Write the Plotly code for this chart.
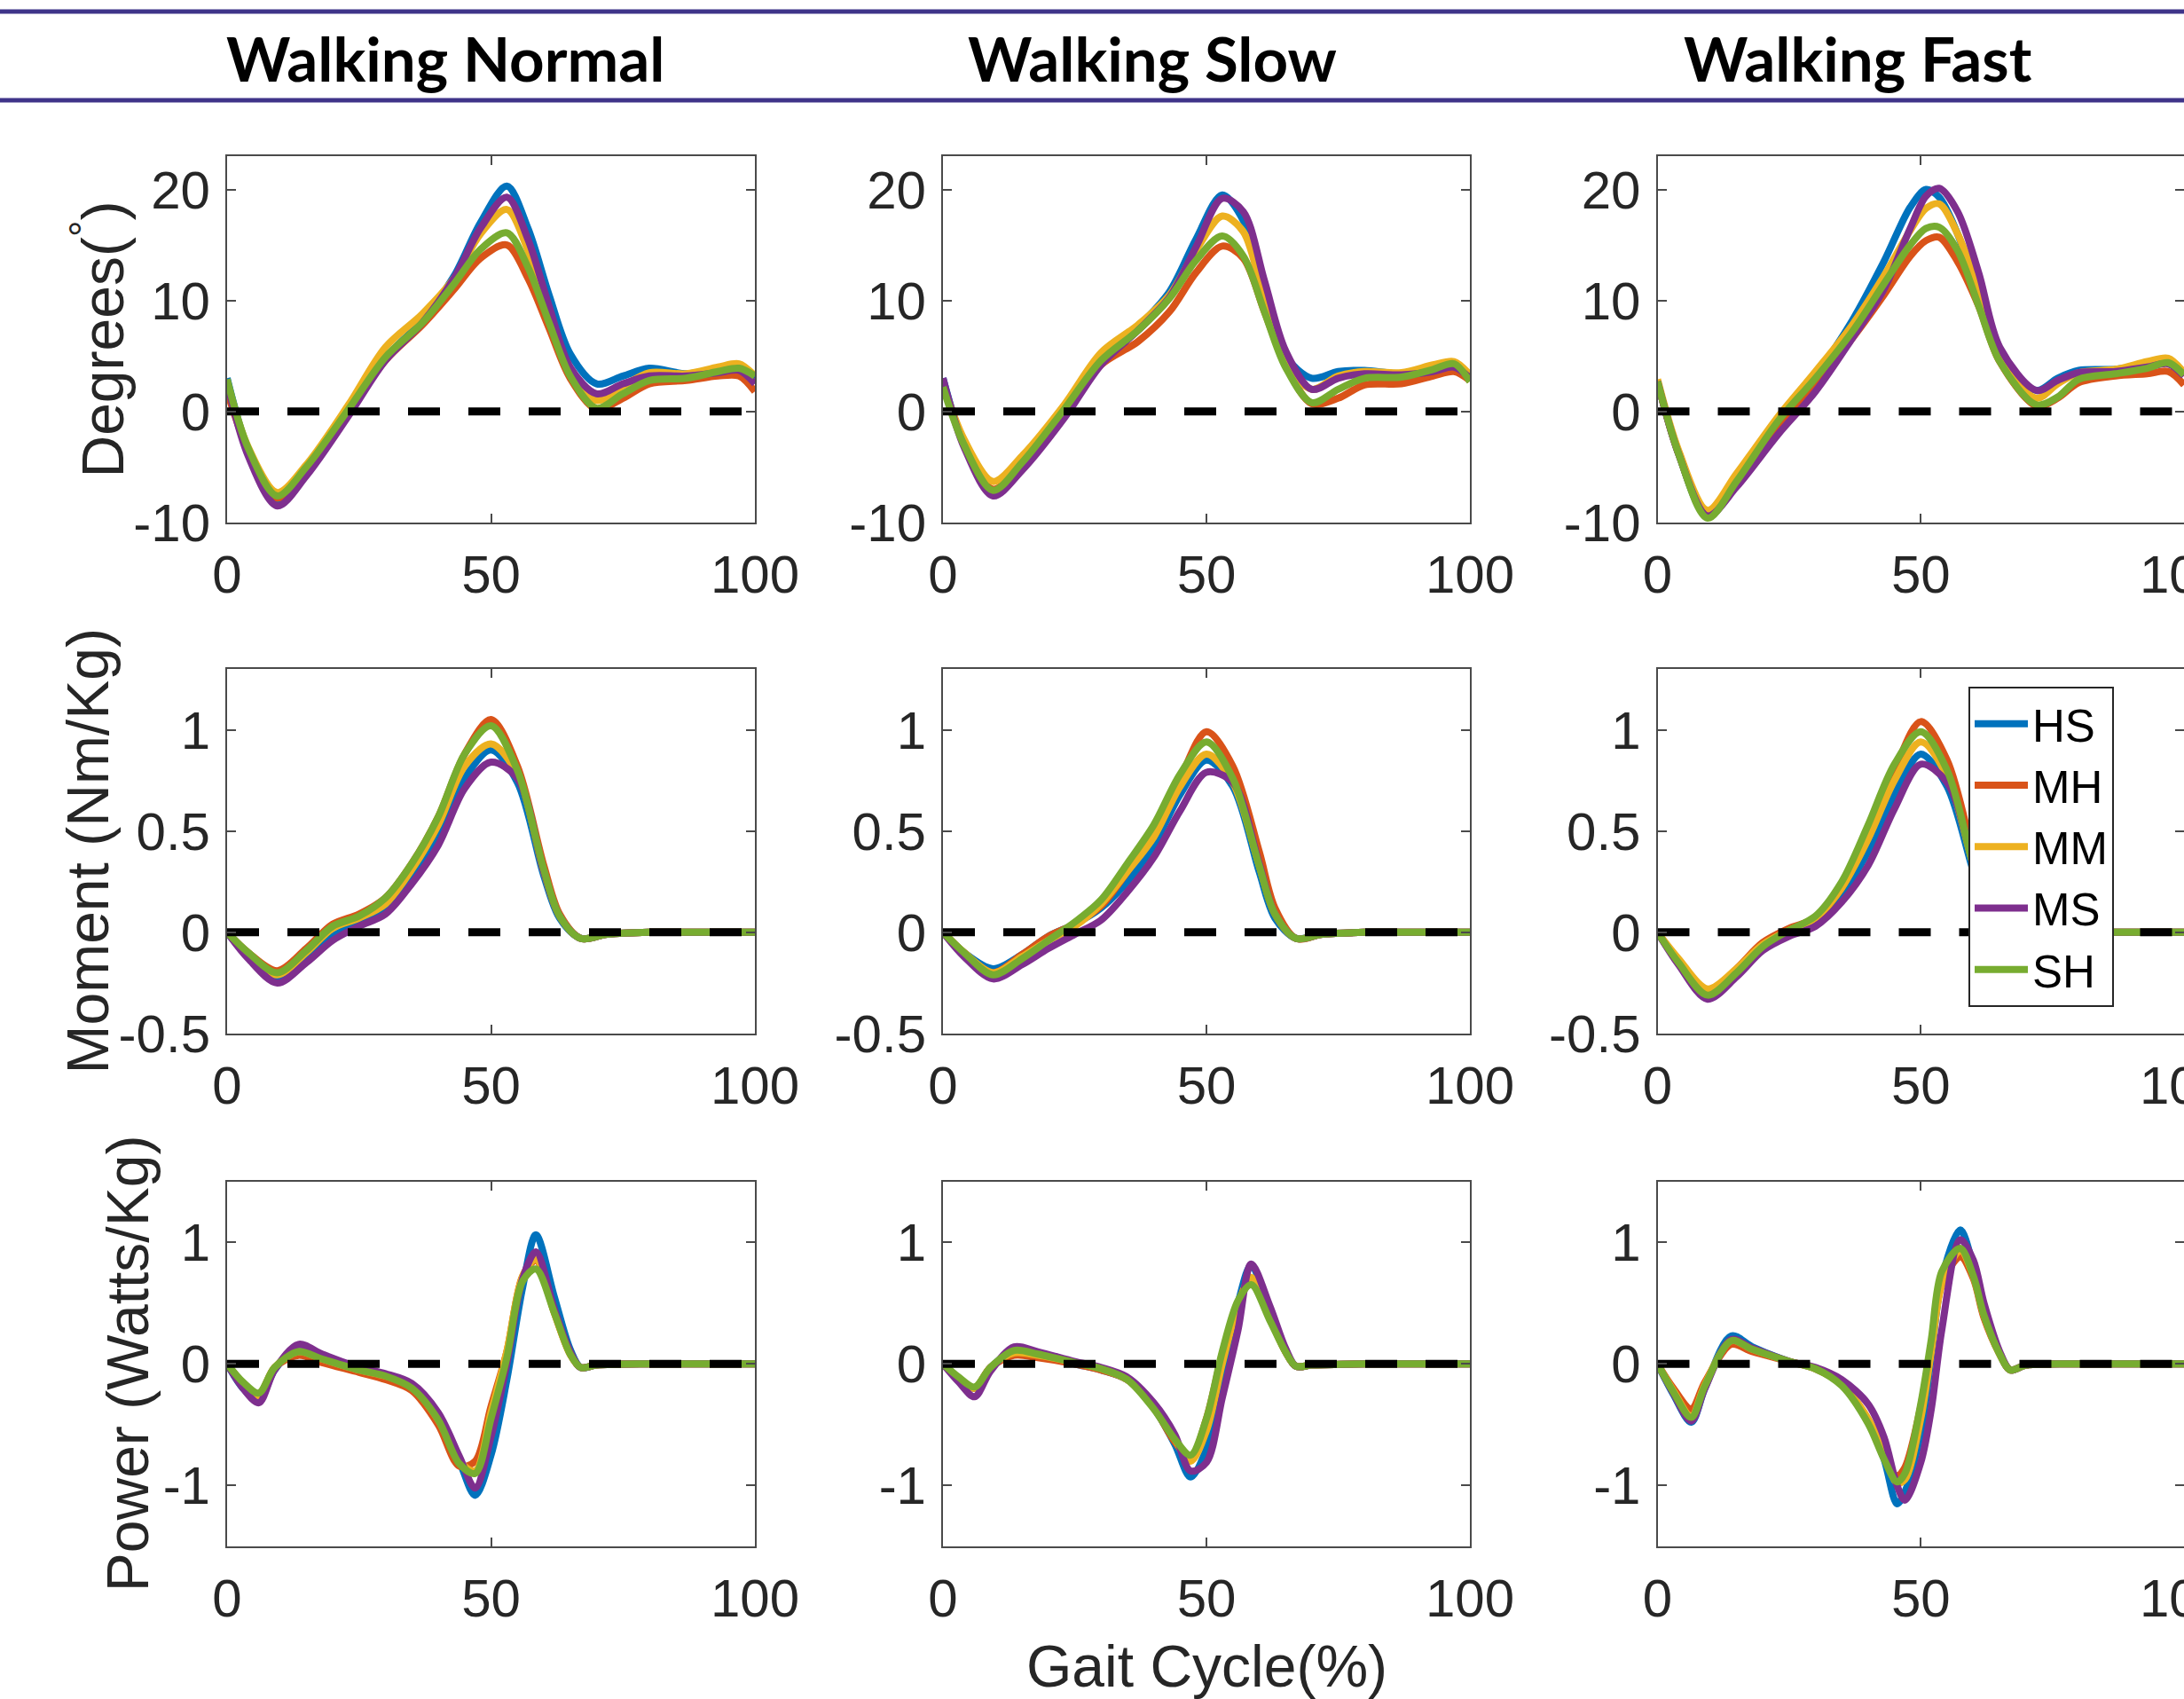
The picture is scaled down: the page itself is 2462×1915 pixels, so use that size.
import plotly.graph_objects as go

# ---------------- data ----------------
NAMES = ["HS", "MH", "MM", "MS", "SH"]
COLORS = ["#0072BD", "#D95319", "#EDB120", "#7E2F8E", "#77AC30"]
COND_TITLES = ["Walking Normal", "Walking Slow", "Walking Fast"]
Y_TITLES = ["Degrees(<sup>°</sup>)", "Moment (Nm/Kg)", "Power (Watts/Kg)"]
X_LABEL = "Gait Cycle(%)"
X_TICKS = [0, 50, 100]
X_TICKTEXT = ["0", "50", "100"]
Y_TICKS = [[-10, 0, 10, 20], [-0.5, 0, 0.5, 1], [-1, 0, 1]]
Y_TICKTEXT = [["-10", "0", "10", "20"], ["-0.5", "0", "0.5", "1"], ["-1", "0", "1"]]
Y_RANGES = [[-10, 23], [-0.5, 1.3], [-1.5, 1.5]]

# Row 1: ankle angle (degrees)
ang_norm_x = [0, 4, 9.5, 15, 23, 30, 37, 43, 48, 53, 57, 61, 65, 70, 75, 80, 87, 93, 97, 100]
ang_norm_hs = [3.0, -3.5, -8.3, -5.6, -0.2, 4.8, 8.2, 12.2, 17.0, 20.3, 16.5, 10.5, 5.2, 2.5, 3.2, 3.9, 3.4, 3.8, 4.0, 3.0]
ang_norm_mh = [1.8, -3.5, -7.8, -5.2, 0.0, 4.6, 7.8, 11.0, 13.8, 15.0, 12.0, 7.5, 3.0, 0.2, 1.2, 2.5, 2.8, 3.2, 3.2, 1.8]
ang_norm_mm = [2.5, -3.2, -7.3, -4.8, 0.6, 5.8, 8.8, 12.0, 16.0, 18.2, 14.5, 8.5, 3.5, 1.0, 2.3, 3.5, 3.4, 4.0, 4.3, 3.2]
ang_norm_ms = [2.6, -4.0, -8.5, -5.8, -0.4, 4.6, 8.0, 12.0, 16.5, 19.3, 15.5, 9.5, 4.0, 1.6, 2.5, 3.2, 3.2, 3.5, 3.7, 2.5]
ang_norm_sh = [2.9, -3.3, -7.6, -5.0, 0.2, 4.9, 8.0, 11.5, 14.6, 16.1, 13.0, 8.0, 3.2, 0.3, 1.6, 2.8, 3.0, 3.6, 3.9, 3.2]

ang_slow_x = [0, 4, 9.5, 15, 23, 30, 37, 43, 48, 53, 57, 61, 65, 70, 75, 80, 87, 93, 97, 100]
ang_slow_hs = [3.0, -3.0, -7.4, -5.0, -0.2, 4.6, 7.6, 10.8, 15.5, 19.5, 17.2, 10.5, 5.0, 3.0, 3.6, 3.7, 3.4, 3.9, 4.2, 3.0]
ang_slow_mh = [2.5, -2.8, -7.0, -4.6, 0.0, 4.2, 6.3, 9.0, 12.5, 14.9, 13.8, 9.0, 4.2, 0.7, 1.2, 2.4, 2.5, 3.2, 3.6, 2.8]
ang_slow_mm = [2.5, -2.5, -6.3, -4.0, 0.6, 5.3, 7.8, 10.5, 14.5, 17.6, 16.2, 10.0, 4.5, 2.0, 3.2, 3.6, 3.5, 4.2, 4.5, 3.3]
ang_slow_ms = [3.0, -3.2, -7.6, -5.3, -0.6, 4.2, 7.3, 10.3, 14.8, 19.2, 18.0, 11.8, 5.5, 2.0, 3.0, 3.4, 3.3, 3.6, 4.0, 3.0]
ang_slow_sh = [2.2, -3.0, -7.1, -4.6, 0.2, 4.6, 7.3, 10.2, 13.6, 15.8, 14.0, 9.0, 4.0, 0.8, 2.0, 3.0, 3.1, 3.8, 4.3, 2.7]

ang_fast_x = [0, 4, 9.5, 15, 23, 30, 37, 43, 48, 51, 53.5, 57, 61, 65, 72, 76, 80, 87, 93, 97, 100]
ang_fast_hs = [2.7, -3.8, -9.5, -6.2, -1.0, 3.2, 8.2, 13.5, 18.4, 20.0, 19.3, 16.0, 10.5, 5.2, 1.9, 3.0, 3.7, 3.8, 4.2, 4.4, 3.3]
ang_fast_mh = [2.7, -3.8, -9.3, -6.2, -1.2, 2.6, 6.6, 10.5, 14.0, 15.4, 15.7, 13.5, 9.5, 4.5, 0.5, 1.2, 2.6, 3.2, 3.4, 3.6, 2.4]
ang_fast_mm = [2.9, -3.5, -8.9, -5.6, -0.4, 3.6, 7.8, 12.2, 16.3, 18.3, 18.7, 16.0, 11.0, 5.0, 1.2, 2.5, 3.5, 3.8, 4.5, 4.8, 3.5]
ang_fast_ms = [2.7, -3.8, -9.4, -6.8, -2.0, 1.8, 6.6, 11.0, 16.5, 19.4, 20.1, 18.0, 12.5, 5.8, 1.9, 2.8, 3.5, 3.6, 4.0, 4.3, 3.2]
ang_fast_sh = [2.7, -3.8, -9.6, -6.3, -0.8, 3.0, 7.2, 11.5, 15.0, 16.5, 16.6, 14.5, 9.5, 4.5, 0.6, 1.3, 2.9, 3.4, 3.9, 4.4, 3.3]

# Row 2: ankle moment (Nm/Kg)
mom_x = [0, 4, 9.5, 15, 20, 25, 30, 35, 40, 45, 50, 55, 60, 63, 67, 72, 80, 90, 100]
mom_norm_hs = [0, -0.12, -0.23, -0.12, -0.02, 0.05, 0.12, 0.27, 0.47, 0.76, 0.90, 0.74, 0.28, 0.07, -0.03, -0.01, 0, 0, 0]
mom_norm_mh = [0, -0.10, -0.19, -0.08, 0.04, 0.09, 0.17, 0.34, 0.57, 0.88, 1.05, 0.82, 0.33, 0.09, -0.03, -0.01, 0, 0, 0]
mom_norm_mm = [0, -0.11, -0.21, -0.10, 0.02, 0.07, 0.14, 0.31, 0.53, 0.82, 0.93, 0.78, 0.30, 0.08, -0.03, -0.01, 0, 0, 0]
mom_norm_ms = [0, -0.13, -0.25, -0.15, -0.04, 0.03, 0.09, 0.24, 0.43, 0.71, 0.84, 0.76, 0.30, 0.08, -0.03, -0.01, 0, 0, 0]
mom_norm_sh = [0, -0.10, -0.20, -0.09, 0.03, 0.08, 0.17, 0.34, 0.57, 0.88, 1.02, 0.80, 0.31, 0.08, -0.03, -0.01, 0, 0, 0]

mom_slow_hs = [0, -0.10, -0.18, -0.11, -0.02, 0.04, 0.12, 0.25, 0.43, 0.68, 0.85, 0.72, 0.30, 0.07, -0.03, -0.01, 0, 0, 0]
mom_slow_mh = [0, -0.10, -0.20, -0.11, -0.02, 0.04, 0.13, 0.30, 0.50, 0.76, 0.99, 0.82, 0.40, 0.12, -0.03, -0.01, 0, 0, 0]
mom_slow_mm = [0, -0.10, -0.20, -0.12, -0.04, 0.03, 0.14, 0.30, 0.47, 0.72, 0.88, 0.74, 0.33, 0.09, -0.03, -0.01, 0, 0, 0]
mom_slow_ms = [0, -0.12, -0.23, -0.16, -0.08, -0.01, 0.06, 0.20, 0.37, 0.60, 0.79, 0.74, 0.34, 0.09, -0.03, -0.01, 0, 0, 0]
mom_slow_sh = [0, -0.10, -0.21, -0.13, -0.04, 0.05, 0.16, 0.34, 0.53, 0.78, 0.94, 0.76, 0.33, 0.09, -0.03, -0.01, 0, 0, 0]

mom_fast_hs = [0, -0.15, -0.31, -0.20, -0.07, 0.00, 0.06, 0.19, 0.40, 0.68, 0.88, 0.72, 0.30, 0.08, -0.03, -0.01, 0, 0, 0]
mom_fast_mh = [0, -0.14, -0.30, -0.18, -0.05, 0.02, 0.07, 0.22, 0.48, 0.80, 1.04, 0.85, 0.38, 0.10, -0.03, -0.01, 0, 0, 0]
mom_fast_mm = [0, -0.13, -0.28, -0.18, -0.06, 0.01, 0.07, 0.22, 0.46, 0.75, 0.94, 0.77, 0.33, 0.09, -0.03, -0.01, 0, 0, 0]
mom_fast_ms = [0, -0.16, -0.33, -0.22, -0.09, -0.02, 0.03, 0.15, 0.33, 0.61, 0.83, 0.74, 0.34, 0.09, -0.03, -0.01, 0, 0, 0]
mom_fast_sh = [0, -0.15, -0.31, -0.20, -0.07, 0.01, 0.08, 0.25, 0.53, 0.83, 0.99, 0.80, 0.33, 0.09, -0.03, -0.01, 0, 0, 0]

# Row 3: ankle power (Watts/Kg)
pow_x = [0, 3, 6, 9, 13.5, 18, 25, 30, 35, 40, 44, 47, 50, 53, 56, 58.5, 62, 65, 67, 70, 80, 90, 100]
pow_norm_hs = [0, -0.20, -0.30, -0.05, 0.14, 0.06, -0.05, -0.10, -0.19, -0.44, -0.80, -1.08, -0.75, -0.13, 0.63, 1.06, 0.55, 0.12, -0.03, -0.01, 0, 0, 0]
pow_norm_mh = [0, -0.16, -0.25, -0.03, 0.07, 0.01, -0.07, -0.13, -0.22, -0.50, -0.84, -0.80, -0.35, 0.10, 0.72, 0.85, 0.42, 0.08, -0.03, -0.01, 0, 0, 0]
pow_norm_mm = [0, -0.16, -0.26, -0.03, 0.10, 0.04, -0.05, -0.10, -0.19, -0.46, -0.80, -0.88, -0.40, 0.10, 0.72, 0.86, 0.42, 0.08, -0.03, -0.01, 0, 0, 0]
pow_norm_ms = [0, -0.20, -0.32, -0.05, 0.16, 0.08, -0.03, -0.08, -0.16, -0.40, -0.76, -1.02, -0.60, 0.00, 0.70, 0.92, 0.45, 0.10, -0.03, -0.01, 0, 0, 0]
pow_norm_sh = [0, -0.15, -0.24, -0.03, 0.10, 0.04, -0.05, -0.10, -0.20, -0.46, -0.82, -0.90, -0.45, 0.05, 0.68, 0.78, 0.42, 0.08, -0.03, -0.01, 0, 0, 0]

pow_slow_hs = [0, -0.12, -0.20, -0.03, 0.10, 0.08, 0.00, -0.05, -0.13, -0.36, -0.66, -0.93, -0.70, -0.08, 0.50, 0.81, 0.42, 0.10, -0.02, -0.01, 0, 0, 0]
pow_slow_mh = [0, -0.12, -0.20, -0.03, 0.07, 0.05, 0.00, -0.05, -0.13, -0.36, -0.64, -0.77, -0.45, 0.08, 0.50, 0.70, 0.38, 0.10, -0.02, -0.01, 0, 0, 0]
pow_slow_mm = [0, -0.12, -0.20, -0.03, 0.09, 0.07, 0.01, -0.04, -0.13, -0.36, -0.62, -0.80, -0.55, 0.00, 0.48, 0.71, 0.38, 0.10, -0.02, -0.01, 0, 0, 0]
pow_slow_ms = [0, -0.15, -0.27, -0.06, 0.14, 0.10, 0.02, -0.03, -0.11, -0.32, -0.58, -0.88, -0.81, -0.28, 0.28, 0.82, 0.48, 0.13, -0.02, -0.01, 0, 0, 0]
pow_slow_sh = [0, -0.11, -0.19, -0.03, 0.11, 0.08, 0.01, -0.04, -0.13, -0.37, -0.62, -0.75, -0.45, 0.10, 0.52, 0.65, 0.36, 0.10, -0.02, -0.01, 0, 0, 0]

pow_fast_x = [0, 3, 6.4, 9, 14, 18, 25, 30, 35, 40, 43, 45.5, 47, 50, 52, 54, 57.5, 60, 62, 65, 67, 70, 80, 90, 100]
pow_fast_hs = [0, -0.25, -0.48, -0.20, 0.23, 0.14, 0.02, -0.04, -0.17, -0.48, -0.78, -1.15, -1.05, -0.57, 0.06, 0.70, 1.10, 0.80, 0.42, 0.08, -0.05, -0.01, 0, 0, 0]
pow_fast_mh = [0, -0.20, -0.37, -0.15, 0.16, 0.10, 0.02, -0.04, -0.17, -0.46, -0.75, -0.92, -0.85, -0.35, 0.15, 0.65, 0.88, 0.70, 0.38, 0.08, -0.05, -0.01, 0, 0, 0]
pow_fast_mm = [0, -0.22, -0.43, -0.17, 0.19, 0.12, 0.02, -0.04, -0.17, -0.45, -0.72, -0.98, -0.95, -0.45, 0.10, 0.65, 0.93, 0.72, 0.40, 0.08, -0.05, -0.01, 0, 0, 0]
pow_fast_ms = [0, -0.24, -0.47, -0.20, 0.20, 0.13, 0.02, -0.03, -0.13, -0.33, -0.60, -1.00, -1.12, -0.81, -0.37, 0.28, 1.02, 0.85, 0.50, 0.10, -0.05, -0.01, 0, 0, 0]
pow_fast_sh = [0, -0.23, -0.44, -0.18, 0.19, 0.12, 0.02, -0.04, -0.18, -0.49, -0.78, -0.97, -0.90, -0.33, 0.20, 0.76, 0.95, 0.72, 0.40, 0.08, -0.05, -0.01, 0, 0, 0]

ZERO_X = [0, 100]
ZERO_Y = [0, 0]

PANELS = [
    [(ang_norm_x, [ang_norm_hs, ang_norm_mh, ang_norm_mm, ang_norm_ms, ang_norm_sh]),
     (ang_slow_x, [ang_slow_hs, ang_slow_mh, ang_slow_mm, ang_slow_ms, ang_slow_sh]),
     (ang_fast_x, [ang_fast_hs, ang_fast_mh, ang_fast_mm, ang_fast_ms, ang_fast_sh])],
    [(mom_x, [mom_norm_hs, mom_norm_mh, mom_norm_mm, mom_norm_ms, mom_norm_sh]),
     (mom_x, [mom_slow_hs, mom_slow_mh, mom_slow_mm, mom_slow_ms, mom_slow_sh]),
     (mom_x, [mom_fast_hs, mom_fast_mh, mom_fast_mm, mom_fast_ms, mom_fast_sh])],
    [(pow_x, [pow_norm_hs, pow_norm_mh, pow_norm_mm, pow_norm_ms, pow_norm_sh]),
     (pow_x, [pow_slow_hs, pow_slow_mh, pow_slow_mm, pow_slow_ms, pow_slow_sh]),
     (pow_fast_x, [pow_fast_hs, pow_fast_mh, pow_fast_mm, pow_fast_ms, pow_fast_sh])],
]

# ---------------- layout constants ----------------
W, H = 2462, 1915
COL_PX = [(256, 851), (1063, 1657), (1868.5, 2462)]
ROW_PX = [(176, 589), (754, 1165), (1331.5, 1743)]
AX_COLOR = "#4a4a4a"
TXT_COLOR = "#262626"
SANS = "Liberation Sans, Arial, sans-serif"
TICK_FONT = dict(family=SANS, size=60, color=TXT_COLOR)
LABEL_SIZE = 66

fig = go.Figure()
layout = {}
for r in range(3):
    for c in range(3):
        idx = r * 3 + c + 1
        xn = "x" if idx == 1 else f"x{idx}"
        yn = "y" if idx == 1 else f"y{idx}"
        xs, series = PANELS[r][c]
        for k in range(5):
            fig.add_trace(go.Scatter(
                x=xs, y=series[k], mode="lines", name=NAMES[k],
                line=dict(color=COLORS[k], width=8, shape="spline", smoothing=0.9),
                showlegend=(idx == 1), legendgroup=NAMES[k],
                xaxis=xn, yaxis=yn, hoverinfo="skip"))
        fig.add_trace(go.Scatter(
            x=ZERO_X, y=ZERO_Y, mode="lines", showlegend=False,
            line=dict(color="black", width=9, dash="36px,32px"),
            xaxis=xn, yaxis=yn, hoverinfo="skip"))
        c0, c1 = COL_PX[c]
        r0, r1 = ROW_PX[r]
        layout["xaxis" if idx == 1 else f"xaxis{idx}"] = dict(
            domain=[c0 / W, min(c1 / W, 1.0)], anchor=yn, range=[0, 100],
            tickmode="array", tickvals=X_TICKS, ticktext=X_TICKTEXT,
            ticks="inside", ticklen=10, tickwidth=2, tickcolor=AX_COLOR,
            showline=True, linewidth=2, linecolor=AX_COLOR, mirror="ticks",
            showgrid=False, zeroline=False, tickfont=TICK_FONT,
            ticklabelstandoff=5, ticklabeloverflow="allow", automargin=False)
        layout["yaxis" if idx == 1 else f"yaxis{idx}"] = dict(
            domain=[1 - r1 / H, 1 - r0 / H], anchor=xn, range=Y_RANGES[r],
            tickmode="array", tickvals=Y_TICKS[r], ticktext=Y_TICKTEXT[r],
            ticks="inside", ticklen=10, tickwidth=2, tickcolor=AX_COLOR,
            showline=True, linewidth=2, linecolor=AX_COLOR, mirror="ticks",
            showgrid=False, zeroline=False, tickfont=TICK_FONT,
            ticklabelstandoff=5, ticklabeloverflow="allow", automargin=False)

annotations = []
TITLE_X = [502, 1299, 2094]
for c in range(3):
    annotations.append(dict(
        text=f"<b>{COND_TITLES[c]}</b>", x=TITLE_X[c] / W, y=1 - 66 / H,
        xref="paper", yref="paper", xanchor="center", yanchor="middle",
        showarrow=False, font=dict(family="Lato, Open Sans, sans-serif", size=69, color="black")))
YT_X = [112, 98, 144]
for r in range(3):
    r0, r1 = ROW_PX[r]
    annotations.append(dict(
        text=Y_TITLES[r], x=YT_X[r] / W, y=1 - (r0 + r1) / 2 / H,
        xref="paper", yref="paper", xanchor="center", yanchor="middle",
        textangle=-90, showarrow=False,
        font=dict(family=SANS, size=LABEL_SIZE, color=TXT_COLOR)))
annotations.append(dict(
    text=X_LABEL, x=1360 / W, y=1 - 1878 / H, xref="paper", yref="paper",
    xanchor="center", yanchor="middle", showarrow=False,
    font=dict(family=SANS, size=LABEL_SIZE, color=TXT_COLOR)))

shapes = [
    dict(type="line", xref="paper", yref="paper", x0=0, x1=1, y0=1 - 13 / H, y1=1 - 13 / H,
         line=dict(color="#3f3489", width=5)),
    dict(type="line", xref="paper", yref="paper", x0=0, x1=1, y0=1 - 113 / H, y1=1 - 113 / H,
         line=dict(color="#3f3489", width=5)),
]

fig.update_layout(
    width=W, height=H, margin=dict(l=0, r=0, t=0, b=0, pad=0, autoexpand=False),
    paper_bgcolor="white", plot_bgcolor="white",
    annotations=annotations, shapes=shapes,
    legend=dict(x=2219 / W, y=1 - 774 / H, xanchor="left", yanchor="top",
                bgcolor="white", bordercolor="#262626", borderwidth=2,
                font=dict(family=SANS, size=51, color="black"),
                itemwidth=60, tracegroupgap=0),
    **layout,
)

fig.write_html("out.html", config={"displayModeBar": False},
               post_script="document.body.style.margin='0';document.body.style.overflow='hidden';")
